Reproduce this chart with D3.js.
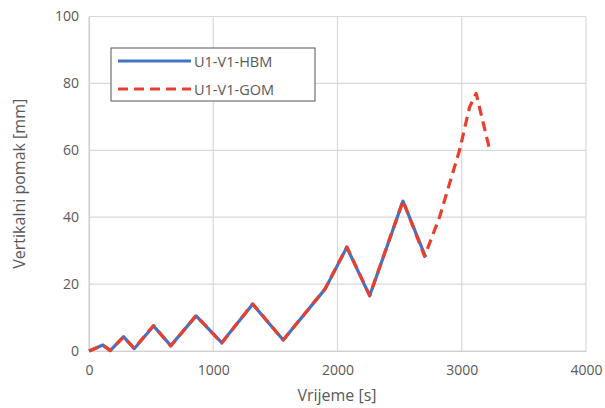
<!DOCTYPE html>
<html>
<head>
<meta charset="utf-8">
<script src="https://cdn.jsdelivr.net/npm/d3@7"></script>
<style>
  body { margin: 0; background: #fff; }
  text { font-family: "Open Sans", sans-serif; fill: #595959; }
</style>
</head>
<body>
<svg class="chart"></svg>
<script>
// -------------------- Data --------------------
// time [s] and vertical displacement [mm]
var hbmTime = [0, 112, 171, 278, 364, 519, 658, 862, 1068, 1317, 1563, 1900, 2075, 2259, 2527, 2709];
var hbmDisp = [0, 1.8, 0.1, 4.3, 0.7, 7.5, 1.6, 10.5, 2.5, 14.0, 3.3, 18.5, 31.0, 16.5, 44.8, 28.1];

var gomTime = [0, 112, 171, 278, 364, 519, 658, 862, 1068, 1317, 1563, 1900, 2075, 2259, 2527, 2701, 2821, 2982, 3063, 3116, 3229];
var gomDisp = [0, 1.7, 0.2, 4.2, 0.8, 7.6, 1.5, 10.6, 2.4, 14.1, 3.3, 18.6, 31.1, 16.6, 44.9, 28.3, 40.0, 60.0, 72.9, 77.0, 59.5];

var xTicks = [0, 1000, 2000, 3000, 4000];
var yTicks = [0, 20, 40, 60, 80, 100];

var series = [
  {name: "U1-V1-HBM", time: hbmTime, disp: hbmDisp, color: "#4472c4", dash: null},
  {name: "U1-V1-GOM", time: gomTime, disp: gomDisp, color: "#e8402c", dash: "10,6"}
];

// -------------------- Settings --------------------
var W = 605, H = 408;
var margin = {top: 16.5, right: 19, bottom: 57, left: 89};
var width = W - margin.left - margin.right
  , height = H - margin.top - margin.bottom;

var svg = d3.select(".chart").attr("width", W).attr("height", H);
var chart = svg.append("g")
  .attr("transform", "translate(" + margin.left + "," + margin.top + ")");

// -------------------- Scales --------------------
var x = d3.scaleLinear().domain([0, 4000]).range([0, width]);
var y = d3.scaleLinear().domain([0, 100]).range([height, 0]);

// -------------------- Grid --------------------
chart.append("g").selectAll("line").data(yTicks).enter().append("line")
  .attr("x1", 0).attr("x2", width)
  .attr("y1", function(d) { return y(d); }).attr("y2", function(d) { return y(d); })
  .attr("stroke", "#d9d9d9").attr("stroke-width", 1.2);

chart.append("g").selectAll("line").data(xTicks).enter().append("line")
  .attr("y1", 0).attr("y2", height)
  .attr("x1", function(d) { return x(d); }).attr("x2", function(d) { return x(d); })
  .attr("stroke", "#d9d9d9").attr("stroke-width", 1.2);

// -------------------- Axes --------------------
var xAxis = chart.append("g")
  .attr("transform", "translate(0," + height + ")")
  .call(d3.axisBottom(x).tickValues(xTicks).tickFormat(d3.format("d")).tickSize(0).tickPadding(14));
var yAxis = chart.append("g")
  .call(d3.axisLeft(y).tickValues(yTicks).tickFormat(d3.format("d")).tickSize(0).tickPadding(10));
[xAxis, yAxis].forEach(function(a) {
  a.select(".domain").attr("stroke", "#d0d0d0").attr("stroke-width", 1.2);
  a.selectAll("text").style("font-size", "14px").attr("fill", "#595959")
    .style("font-family", "'Open Sans', sans-serif");
});

svg.append("text")
  .attr("x", 337).attr("y", 401)
  .style("text-anchor", "middle").style("font-size", "16px")
  .text("Vrijeme [s]");

svg.append("text")
  .attr("transform", "translate(25," + (margin.top + height / 2) + ") rotate(-90)")
  .style("text-anchor", "middle").style("font-size", "16px")
  .text("Vertikalni pomak [mm]");

// -------------------- Lines --------------------
var line = d3.line()
  .x(function(d) { return x(d[0]); })
  .y(function(d) { return y(d[1]); });

chart.selectAll("path.series").data(series).enter().append("path")
  .attr("class", "series")
  .attr("d", function(s) { return line(d3.zip(s.time, s.disp)); })
  .attr("fill", "none")
  .attr("stroke", function(s) { return s.color; })
  .attr("stroke-width", 3.2)
  .attr("stroke-linejoin", "round")
  .attr("stroke-dasharray", function(s) { return s.dash; });

// -------------------- Legend --------------------
var legend = svg.append("g").attr("transform", "translate(111,48)");
legend.append("rect")
  .attr("width", 204).attr("height", 53)
  .attr("fill", "#fff").attr("stroke", "#555").attr("stroke-width", 1);

var item = legend.selectAll("g.item").data(series).enter().append("g")
  .attr("class", "item")
  .attr("transform", function(d, i) { return "translate(0," + (13 + i * 28) + ")"; });
item.append("line")
  .attr("x1", 7).attr("x2", 80).attr("y1", 0).attr("y2", 0)
  .attr("stroke", function(d) { return d.color; })
  .attr("stroke-width", 3.2)
  .attr("stroke-dasharray", function(d) { return d.dash; });
item.append("text")
  .attr("x", 83).attr("y", 5.5)
  .style("font-size", "14.5px")
  .text(function(d) { return d.name; });
</script>
</body>
</html>
